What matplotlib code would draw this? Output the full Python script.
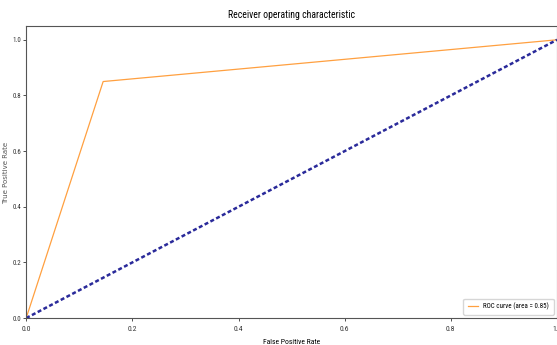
import matplotlib
matplotlib.use("Agg")
import matplotlib.pyplot as plt
from matplotlib import font_manager

names = {f.name for f in font_manager.fontManager.ttflist}
fam = None
for cand in ["Liberation Sans Narrow", "DejaVu Sans Condensed", "Roboto Condensed", "Open Sans Condensed"]:
    if cand in names:
        fam = cand
        break
if fam is None:
    fam = "DejaVu Sans"
plt.rcParams['font.family'] = [fam, 'DejaVu Sans']

fpr = [0.0, 0.145, 1.0]
tpr = [0.0, 0.85, 1.0]
roc_auc = 0.85
diag = [0.0, 1.0]
xticks = [0.0, 0.2, 0.4, 0.6, 0.8, 1.0]
yticks = [0.0, 0.2, 0.4, 0.6, 0.8, 1.0]

fig = plt.figure(figsize=(5.57, 3.45), dpi=100)
ax = fig.add_axes([0.047, 0.078, 0.953, 0.847])
ax.plot(fpr, tpr, color='#ffa040', lw=0.9, label='ROC curve (area = %0.2f)' % roc_auc)
ax.plot(diag, diag, color='#2a2a9a', lw=1.8, linestyle=(0, (1.6, 1.0)))
ax.set_xlim(0.0, 1.0)
ax.set_ylim(0.0, 1.05)
ax.set_xticks(xticks)
ax.set_yticks(yticks)
ax.set_xticklabels([f"{t:.1f}" for t in xticks])
ax.set_yticklabels([f"{t:.1f}" for t in yticks])
ax.tick_params(labelsize=5.5, length=2, width=0.6, colors='#333333')
ax.tick_params(axis='y', pad=1.5, labelsize=5)
ax.set_xlabel('False Positive Rate', fontsize=5.5, labelpad=5)
fig.text(6.5 / 557, 0.5, 'True Positive Rate', rotation=90, ha='center', va='center',
         fontsize=5, family='DejaVu Sans', color='#555555')
ax.set_title('Receiver operating characteristic', fontsize=7, pad=6)
for s in ax.spines.values():
    s.set_linewidth(0.8)
    s.set_color('#555555')
ax.legend(loc='lower right', fontsize=5, handlelength=1.5, borderpad=0.6)
fig.savefig('out.png', dpi=100)
